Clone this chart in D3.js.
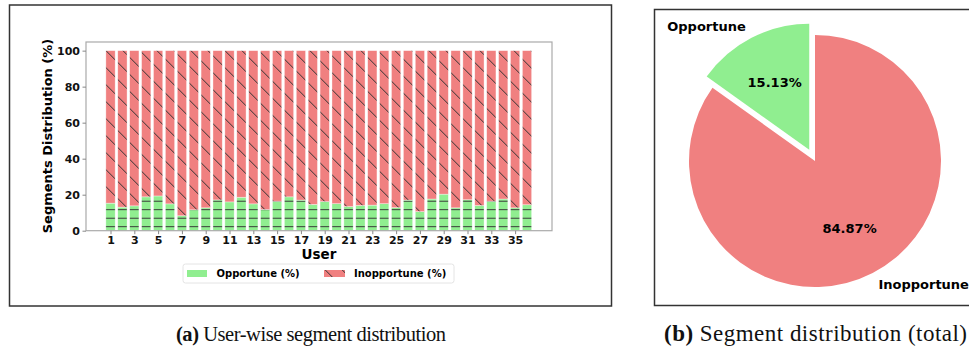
<!DOCTYPE html>
<html>
<head>
<meta charset="utf-8">
<script src="https://cdn.jsdelivr.net/npm/d3@7"></script>
<style>
  body { margin: 0; background: #fff; }
  text { font-family: "DejaVu Sans", sans-serif; }
</style>
</head>
<body>
<div id="chart"></div>
<script>
var width = 969,
  height = 351;

// users 1..36
var users = d3.range(1, 37);
var opportune = [15.3, 13.1, 13.8, 18.8, 19.3, 14.9, 8.3, 11.6, 12.7, 17.1, 16.0, 18.6,
  14.9, 11.8, 16.4, 18.8, 17.0, 14.6, 16.2, 15.0, 13.4, 14.0, 14.2, 15.0,
  12.8, 17.0, 10.6, 17.6, 20.3, 12.7, 17.2, 14.0, 16.4, 17.6, 12.7, 14.4];
var inopportune = [84.7, 86.9, 86.2, 81.2, 80.7, 85.1, 91.7, 88.4, 87.3, 82.9, 84.0, 81.4,
  85.1, 88.2, 83.6, 81.2, 83.0, 85.4, 83.8, 85.0, 86.6, 86.0, 85.8, 85.0,
  87.2, 83.0, 89.4, 82.4, 79.7, 87.3, 82.8, 86.0, 83.6, 82.4, 87.3, 85.6];
var yTicks = [0, 20, 40, 60, 80, 100];
var pieLabels = ["Opportune", "Inopportune"];
var pieValues = [15.13, 84.87];

var green = "#90ee90",
  red = "#f08080";

var svg = d3.select("#chart").append("svg")
  .attr("width", width)
  .attr("height", height);

svg.append("rect").attr("width", width).attr("height", height).attr("fill", "#fff");

// hatch patterns
var defs = svg.append("defs");
var pH = defs.append("pattern")
  .attr("id", "hatchH")
  .attr("patternUnits", "userSpaceOnUse")
  .attr("width", 10).attr("height", 8.5)
  .attr("patternTransform", "translate(0,1.45)");
pH.append("rect").attr("width", 10).attr("height", 8.5).attr("fill", green);
pH.append("line").attr("x1", 0).attr("x2", 10).attr("y1", 4.25).attr("y2", 4.25)
  .attr("stroke", "#333").attr("stroke-width", 1);

var pD = defs.append("pattern")
  .attr("id", "hatchD")
  .attr("patternUnits", "userSpaceOnUse")
  .attr("width", 17).attr("height", 17)
  .attr("patternTransform", "translate(0,12.7)");
pD.append("rect").attr("width", 17).attr("height", 17).attr("fill", red);
pD.append("path").attr("d", "M0,0L17,17M-4,13L4,21M13,-4L21,4")
  .attr("stroke", "#333").attr("stroke-width", 1);

// ---------- (a) stacked bars ----------
svg.append("rect")
  .attr("x", 9.5).attr("y", 5).attr("width", 602).attr("height", 301)
  .attr("fill", "none").attr("stroke", "#333").attr("stroke-width", 1.5);

var plot = { left: 86, right: 552, top: 42, bottom: 230.7 };

var x = d3.scaleLinear().domain([-2.06, 37.1]).range([plot.left, plot.right]);
var y = d3.scaleLinear().domain([0, 104.8]).range([plot.bottom, plot.top]);
var bw = 11.9 * 0.78;

var g = svg.append("g");

g.selectAll(".opp")
  .data(users)
  .enter()
  .append("rect")
  .attr("x", function (d, i) { return x(i) - bw / 2; })
  .attr("y", function (d, i) { return y(opportune[i]); })
  .attr("width", bw)
  .attr("height", function (d, i) { return y(0) - y(opportune[i]); })
  .attr("fill", "url(#hatchH)")
  .attr("stroke", "#fff").attr("stroke-width", 0.6).attr("stroke-opacity", 0.6);

g.selectAll(".inopp")
  .data(users)
  .enter()
  .append("rect")
  .attr("x", function (d, i) { return x(i) - bw / 2; })
  .attr("y", function (d, i) { return y(opportune[i] + inopportune[i]); })
  .attr("width", bw)
  .attr("height", function (d, i) { return y(opportune[i]) - y(opportune[i] + inopportune[i]); })
  .attr("fill", "url(#hatchD)")
  .attr("stroke", "#fff").attr("stroke-width", 0.6).attr("stroke-opacity", 0.6);

// axes frame
svg.append("rect")
  .attr("x", plot.left).attr("y", plot.top)
  .attr("width", plot.right - plot.left).attr("height", plot.bottom - plot.top)
  .attr("fill", "none").attr("stroke", "#aaa").attr("stroke-width", 1.2);

var xAxis = svg.append("g")
  .attr("transform", "translate(0," + plot.bottom + ")")
  .call(d3.axisBottom(x)
    .tickValues(users.filter(function (u) { return u % 2 == 1; }).map(function (u) { return u - 1; }))
    .tickFormat(function (d) { return d + 1; })
    .tickSize(3.5).tickPadding(2.5));
var yAxis = svg.append("g")
  .attr("transform", "translate(" + plot.left + ",0)")
  .call(d3.axisLeft(y).tickValues(yTicks).tickSize(3.5).tickPadding(2.5));

[xAxis, yAxis].forEach(function (a) {
  a.select(".domain").remove();
  a.selectAll("line").attr("stroke", "#888");
  a.selectAll("text")
    .style("font-family", "DejaVu Sans")
    .style("font-weight", "bold")
    .style("font-size", "11px")
    .attr("fill", "#111");
});

svg.append("text")
  .attr("x", 319).attr("y", 259)
  .attr("text-anchor", "middle")
  .style("font-weight", "bold").style("font-size", "13.5px")
  .text("User");

svg.append("text")
  .attr("transform", "translate(52,136) rotate(-90)")
  .attr("text-anchor", "middle")
  .style("font-weight", "bold").style("font-size", "13px")
  .text("Segments Distribution (%)");

// legend
var lg = svg.append("g");
lg.append("rect")
  .attr("x", 183).attr("y", 264).attr("width", 271).attr("height", 19)
  .attr("rx", 2.5)
  .attr("fill", "#fff").attr("stroke", "#ddd").attr("stroke-width", 0.8);
lg.append("rect").attr("x", 187).attr("y", 270).attr("width", 20).attr("height", 7)
  .attr("fill", green);
lg.append("text").attr("x", 216.5).attr("y", 277)
  .style("font-weight", "bold").style("font-size", "10px")
  .text("Opportune (%)");
lg.append("rect").attr("x", 324).attr("y", 270).attr("width", 21).attr("height", 7)
  .attr("fill", "url(#hatchD)");
lg.append("text").attr("x", 354).attr("y", 277)
  .style("font-weight", "bold").style("font-size", "10px")
  .text("Inopportune (%)");

// ---------- (b) pie ----------
svg.append("rect")
  .attr("x", 654.5).attr("y", 9.5).attr("width", 340).attr("height", 296)
  .attr("fill", "none").attr("stroke", "#333").attr("stroke-width", 1.5);

var cx = 815, cy = 161, r = 126;

var pie = d3.pie().sort(null).startAngle(0).endAngle(-2 * Math.PI);
var arcs = pie(pieValues);
var arc = d3.arc().innerRadius(0).outerRadius(r);
var explode = [0.1 * r, 0];

var pg = svg.append("g").attr("transform", "translate(" + cx + "," + cy + ")");

var slices = pg.selectAll(".slice")
  .data(arcs)
  .enter()
  .append("g")
  .attr("transform", function (d, i) {
    var a = (d.startAngle + d.endAngle) / 2;
    return "translate(" + Math.sin(a) * explode[i] + "," + (-Math.cos(a) * explode[i]) + ")";
  });

slices.append("path")
  .attr("d", arc)
  .attr("fill", function (d, i) { return i == 0 ? green : red; });

slices.append("text")
  .attr("x", function (d) { return Math.sin((d.startAngle + d.endAngle) / 2) * 0.6 * r; })
  .attr("y", function (d) { return -Math.cos((d.startAngle + d.endAngle) / 2) * 0.6 * r; })
  .attr("text-anchor", "middle")
  .attr("dominant-baseline", "central")
  .style("font-weight", "bold").style("font-size", "13px")
  .text(function (d) { return d.value.toFixed(2) + "%"; });

slices.append("text")
  .attr("x", function (d) { return Math.sin((d.startAngle + d.endAngle) / 2) * 1.1 * r; })
  .attr("y", function (d) { return -Math.cos((d.startAngle + d.endAngle) / 2) * 1.1 * r; })
  .attr("text-anchor", function (d) {
    return Math.sin((d.startAngle + d.endAngle) / 2) < 0 ? "end" : "start";
  })
  .attr("dominant-baseline", "central")
  .style("font-weight", "bold").style("font-size", "13px")
  .text(function (d, i) { return pieLabels[i]; });

// captions
function caption(x0, len, size, tag, rest) {
  var t = svg.append("text")
    .attr("x", x0).attr("y", 341)
    .attr("textLength", len)
    .attr("lengthAdjust", "spacing")
    .style("font-family", "Liberation Serif, serif")
    .style("font-size", size + "px")
    .attr("fill", "#111");
  t.append("tspan").style("font-weight", "bold").text(tag);
  t.append("tspan").text(" " + rest);
}
caption(176, 270, 20.5, "(a)", "User-wise segment distribution");
caption(664, 303, 23, "(b)", "Segment distribution (total)");
</script>
</body>
</html>
